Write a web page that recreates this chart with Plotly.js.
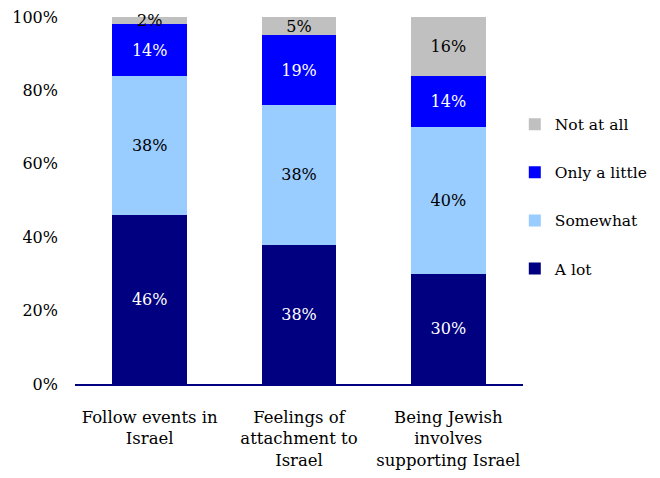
<!DOCTYPE html>
<html><head><meta charset="utf-8">
<script src="https://cdn.plot.ly/plotly-3.0.1.min.js"></script>
<style>body{margin:0;background:#fff}#c{width:660px;height:478px}</style>
</head><body><div id="c"></div>
<script>
const categories = ['Follow events in<br>Israel', 'Feelings of<br>attachment to<br>Israel', 'Being Jewish<br>involves<br>supporting Israel'];
const aLot = [46, 38, 30];
const somewhat = [38, 38, 40];
const onlyALittle = [14, 19, 14];
const notAtAll = [2, 5, 16];
const seriesNames = ['A lot', 'Somewhat', 'Only a little', 'Not at all'];
const seriesColors = ['#000080', '#99CCFF', '#0000FF', '#C0C0C0'];
const textColors = ['#ffffff', '#000000', '#ffffff', '#000000'];
const seriesValues = [aLot, somewhat, onlyALittle, notAtAll];

const FONT = 'DejaVu Serif';
const traces = seriesValues.map((vals, i) => ({
  type: 'bar', x: categories, y: vals, name: seriesNames[i],
  legendrank: 4 - i, legendgroup: 'g' + i,
  marker: {color: seriesColors[i], line: {width: 0}},
  text: vals.map(v => v + '%'), textposition: 'inside', insidetextanchor: 'middle',
  constraintext: 'none', cliponaxis: false,
  textfont: {family: FONT, size: 16, color: textColors[i]},
  hoverinfo: 'skip'
}));

const layout = {
  width: 660, height: 478,
  margin: {l: 75, r: 137, t: 17, b: 94, autoexpand: false},
  barmode: 'stack', bargap: 0.5,
  paper_bgcolor: '#fff', plot_bgcolor: '#fff',
  font: {family: FONT, size: 16, color: '#000'},
  xaxis: {showgrid: false, showline: true, linecolor: '#000080', linewidth: 2,
          ticks: '', ticklabelstandoff: 17, automargin: false,
          tickfont: {family: FONT, size: 16.5, color: '#000'}},
  yaxis: {range: [0, 100], dtick: 20, ticksuffix: '%', showgrid: false, zeroline: false,
          showline: false, ticks: '', ticklabelstandoff: 16, automargin: false,
          tickfont: {family: FONT, size: 16, color: '#000'}},
  legend: {xref: 'container', yref: 'container', x: 0.78, y: 0.775, yanchor: 'top', xanchor: 'left',
           traceorder: 'grouped', tracegroupgap: 25, itemwidth: 30,
           font: {family: FONT, size: 15.5, color: '#000'}},
  showlegend: true
};
Plotly.newPlot('c', traces, layout, {displayModeBar: false, staticPlot: true});
</script></body></html>
